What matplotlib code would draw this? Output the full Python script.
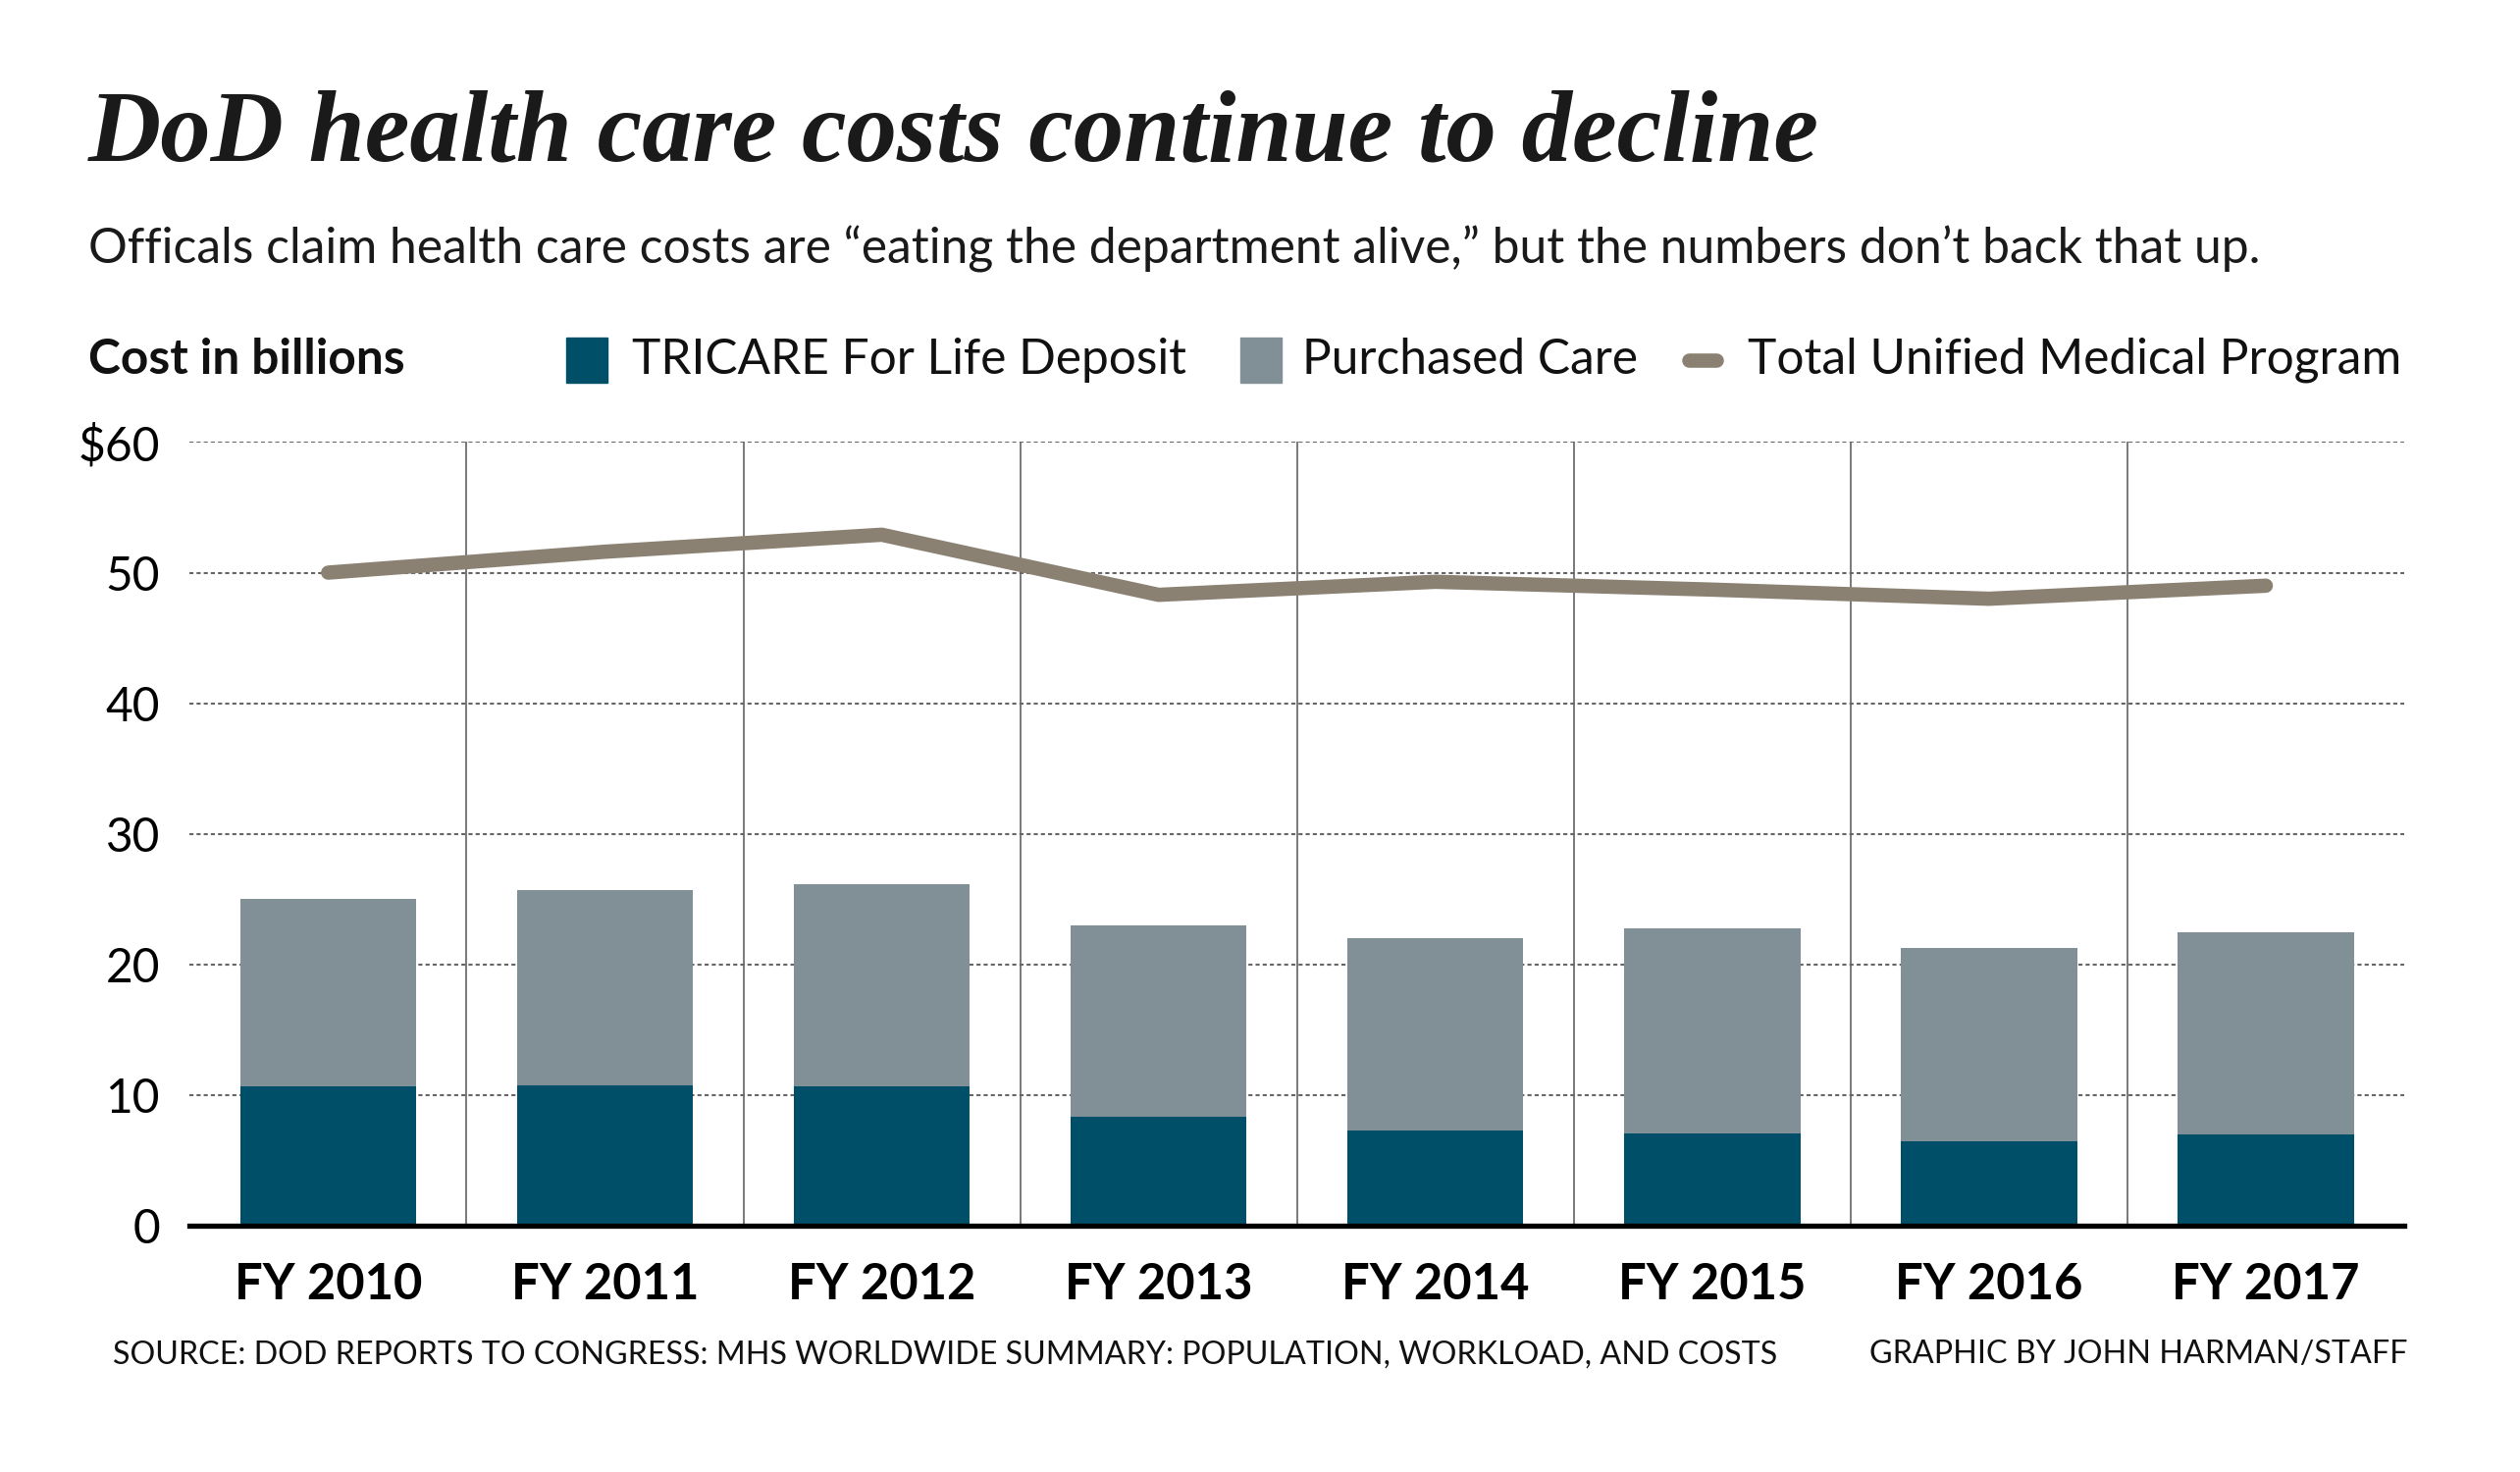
import matplotlib
matplotlib.use("Agg")
import matplotlib.pyplot as plt
from matplotlib.patches import Rectangle
from matplotlib.lines import Line2D

years = ["FY 2010", "FY 2011", "FY 2012", "FY 2013", "FY 2014", "FY 2015", "FY 2016", "FY 2017"]
tricare = [10.7, 10.8, 10.7, 8.4, 7.3, 7.1, 6.5, 7.0]
purchased = [14.3, 14.9, 15.5, 14.6, 14.7, 15.7, 14.8, 15.5]
total_ump = [50.0, 51.6, 52.9, 48.3, 49.3, 48.7, 48.0, 49.0]
yticks = [0, 10, 20, 30, 40, 50, 60]
ytick_labels = ["0", "10", "20", "30", "40", "50", "$60"]

TEAL = "#004f69"
GRAY = "#819096"
TAUPE = "#8a8173"

plt.rcParams['font.family'] = ['Lato', 'DejaVu Sans']

W, H = 1567.0, 916.0
def fx(x): return x / W
def fy(y): return 1 - y / H

fig = plt.figure(figsize=(25.68, 15.0), dpi=100)
ax = fig.add_axes([fx(118), fy(763), fx(1495) - fx(118), fy(275) - fy(763)])

x = list(range(len(years)))
ax.bar(x, tricare, width=0.636, color=TEAL, zorder=3)
ax.bar(x, purchased, width=0.636, bottom=tricare, color=GRAY, zorder=3)
ax.plot(x, total_ump, color=TAUPE, lw=10.5, solid_capstyle='round', solid_joinstyle='round', zorder=4)

ax.set_xlim(-0.5, len(years) - 0.5)
ax.set_ylim(0, 60)
for i in range(len(years) - 1):
    ax.axvline(i + 0.5, color="#6e6e6e", lw=1.3, zorder=1)
for t in yticks[1:]:
    ax.axhline(t, color="#666666", lw=1.5, ls=(0, (2, 1.5)), zorder=2)

ax.set_yticks(yticks)
ax.set_yticklabels(ytick_labels, fontsize=34.5)
ax.set_xticks(x)
ax.set_xticklabels(years, fontsize=36.5, fontweight='bold')
ax.tick_params(axis='both', length=0)
ax.tick_params(axis='y', pad=22)
ax.tick_params(axis='x', pad=26)
for s in ['top', 'right', 'left']:
    ax.spines[s].set_visible(False)
ax.spines['bottom'].set_linewidth(3.8)
ax.spines['bottom'].set_color('black')
ax.spines['bottom'].set_zorder(5)

# Title & subtitle
fig.text(fx(55), fy(100), "DoD health care costs continue to decline",
         family=['Liberation Serif', 'DejaVu Serif'], fontweight='bold', fontstyle='italic',
         fontsize=74, color='#1a1a1a', va='baseline', ha='left')
fig.text(fx(55), fy(164), "Officals claim health care costs are \u201ceating the department alive,\u201d but the numbers don\u2019t back that up.",
         fontsize=35.8, color='#1a1a1a', va='baseline', ha='left')

# Legend row
LY = 224
fig.text(fx(55), fy(LY), "Cost in billions", fontsize=35.7, fontweight='bold', color='#111111', va='center', ha='left')
fig.add_artist(Rectangle((fx(352), fy(LY + 14)), fx(378) - fx(352), fy(LY - 14) - fy(LY + 14), color=TEAL, transform=fig.transFigure))
fig.text(fx(393), fy(LY), "TRICARE For Life Deposit", fontsize=35.7, color='#111111', va='center', ha='left')
fig.add_artist(Rectangle((fx(771), fy(LY + 14)), fx(797) - fx(771), fy(LY - 14) - fy(LY + 14), color=GRAY, transform=fig.transFigure))
fig.text(fx(810), fy(LY), "Purchased Care", fontsize=35.7, color='#111111', va='center', ha='left')
fig.add_artist(Line2D([fx(1050), fx(1067)], [fy(LY), fy(LY)], color=TAUPE, lw=10.5, solid_capstyle='round', transform=fig.transFigure))
fig.text(fx(1087), fy(LY), "Total Unified Medical Program", fontsize=35.7, color='#111111', va='center', ha='left')

# Footer
fig.text(fx(70), fy(843), "SOURCE: DOD REPORTS TO CONGRESS: MHS WORLDWIDE SUMMARY: POPULATION, WORKLOAD, AND COSTS",
         fontsize=23.2, color='#111111', va='center', ha='left')
fig.text(fx(1497), fy(843), "GRAPHIC BY JOHN HARMAN/STAFF",
         fontsize=23.2, color='#111111', va='center', ha='right')

fig.savefig("out.png", dpi=100, facecolor='white')
